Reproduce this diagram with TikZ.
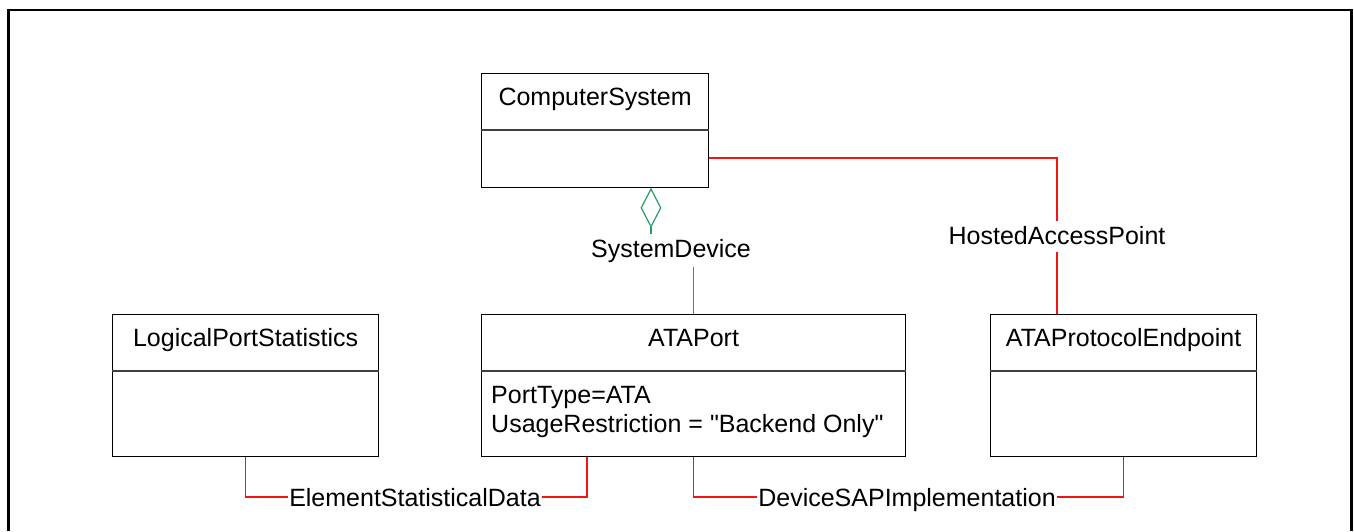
\documentclass[tikz,border=0pt]{standalone}
\usepackage{fontspec}
\setmainfont{Liberation Sans}[Ligatures=TeXOff]
\usetikzlibrary{shapes.geometric,calc}
\definecolor{assocred}{RGB}{245,20,20}
\definecolor{aggrgreen}{RGB}{40,155,100}
\begin{document}
\begin{tikzpicture}[x=1pt,y=-1pt,
  every node/.style={font=\fontsize{25}{29}\selectfont},
  classbox/.style={draw=black,line width=1.2pt,inner sep=0pt,anchor=north west},
  divider/.style={draw=black!75,line width=1.4pt},
  classtitle/.style={inner sep=0pt,anchor=base},
  attr/.style={inner sep=0pt,anchor=base west},
  lbl/.style={inner xsep=1pt,inner ysep=0pt,text height=18pt,text depth=0pt},
  redline/.style={draw=assocred,line width=1.4pt},
  greenline/.style={draw=aggrgreen,line width=1.4pt}]
\useasboundingbox (0,0) rectangle (1354,531);
% outer frame
\draw[line width=2.5pt] (8.5,531) -- (8.5,10) -- (1351.5,10) -- (1351.5,531);

% classes
\node[classbox,minimum width=227pt,minimum height=114pt] (cs) at (481,73) {};
\draw[divider] ($(cs.north west)+(0,57)$) -- ($(cs.north east)+(0,57)$);
\node[classtitle] (cst) at ($(cs.north)+(0,32.5)$) {ComputerSystem};

\node[classbox,minimum width=266pt,minimum height=142pt] (lps) at (112,314) {};
\draw[divider] ($(lps.north west)+(0,57)$) -- ($(lps.north east)+(0,57)$);
\node[classtitle] (lpst) at ($(lps.north)+(0,32.5)$) {LogicalPortStatistics};

\node[classbox,minimum width=424pt,minimum height=142pt] (ap) at (481,314) {};
\draw[divider] ($(ap.north west)+(0,57)$) -- ($(ap.north east)+(0,57)$);
\node[classtitle] (apt) at ($(ap.north)+(0,32.5)$) {ATAPort};
\node[attr] (apa1) at ($(ap.north west)+(10,89)$) {PortType=ATA};
\node[attr] (apa2) at ($(ap.north west)+(10,118)$) {UsageRestriction = "Backend Only"};

\node[classbox,minimum width=266pt,minimum height=142pt] (ape) at (990,314) {};
\draw[divider] ($(ape.north west)+(0,57)$) -- ($(ape.north east)+(0,57)$);
\node[classtitle] (apet) at ($(ape.north)+(0,32.5)$) {ATAProtocolEndpoint};

% SystemDevice aggregation
\node[diamond,draw=aggrgreen,line width=1.2pt,minimum width=20pt,minimum height=38pt,inner sep=0pt,anchor=north] (dia) at ($(cs.south west)+(170,0)$) {};
\node[lbl] (sd) at (671,248) {SystemDevice};
\draw[greenline] (dia.south) -- ([yshift=5pt]sd.north -| dia.south);
\draw[greenline] ([yshift=-10pt]sd.south -| ap.north) -- (ap.north);

% HostedAccessPoint
\node[lbl] (hap) at (1057,235) {HostedAccessPoint};
\draw[redline] ($(cs.north east)+(0,85)$) -| ([yshift=5pt]hap.north);
\draw[redline] ([yshift=-8pt]hap.south) -- (hap.south |- ape.north);

% ElementStatisticalData
\node[lbl] (esd) at (415,497) {ElementStatisticalData};
\draw[redline] (lps.south) |- (esd.west);
\draw[redline] (esd.east) -| ($(ap.south west)+(106,0)$);

% DeviceSAPImplementation
\node[lbl] (dsap) at (907,497) {DeviceSAPImplementation};
\draw[redline] (ap.south) |- (dsap.west);
\draw[redline] (dsap.east) -| (ape.south);
\end{tikzpicture}
\end{document}
